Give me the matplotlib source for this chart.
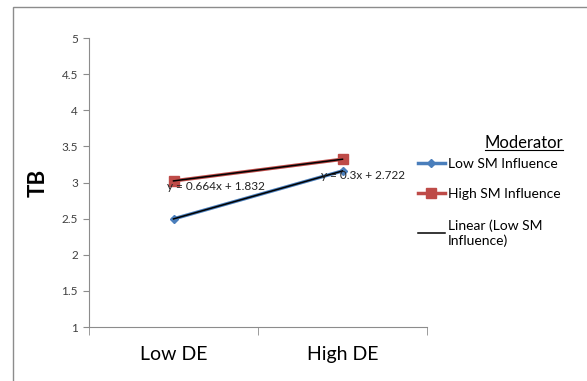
import numpy as np
import matplotlib
matplotlib.use("Agg")
import matplotlib.pyplot as plt
from matplotlib.lines import Line2D
from matplotlib.patches import Rectangle

plt.rcParams['font.family'] = ['Lato', 'DejaVu Sans']

# -------- data --------
categories = ['Low DE', 'High DE']
low_sm = [2.496, 3.16]
high_sm = [3.022, 3.322]
series_names = ['Low SM Influence', 'High SM Influence']
trend_label = 'Linear (Low SM\nInfluence)'
y_ticks = [1, 1.5, 2, 2.5, 3, 3.5, 4, 4.5, 5]

fig = plt.figure(figsize=(5.87, 3.81), dpi=100)
ax = fig.add_axes([89 / 587, 1 - 327 / 381, (427 - 89) / 587, (327 - 38) / 381])

# outer chart border
fig.patches.append(Rectangle((13 / 587, -0.1), 1.2, 1 - 7 / 381 + 0.1, transform=fig.transFigure,
                             fill=False, edgecolor='#8c8c8c', linewidth=1.0))

x = np.arange(len(categories))
ax.plot(x, low_sm, color='#4a7ebb', lw=2.5, marker='D', ms=4.5, zorder=3)
ax.plot(x, high_sm, color='#be4b48', lw=2.5, marker='s', ms=7, zorder=3)

# excel-style linear trendlines (x = 1, 2)
xe = x + 1
for vals, pos in [(low_sm, (-0.04, 2.95)), (high_sm, (0.87, 3.10))]:
    m, b = np.polyfit(xe, vals, 1)
    ax.plot(x, m * xe + b, color='black', lw=1.1, zorder=4)
    ax.text(pos[0], pos[1], f'y = {m:.3g}x + {b:.4g}', fontsize=8.5, color='#222222',
            va='center', ha='left', zorder=5)

ax.set_xlim(-0.5, 1.5)
ax.set_ylim(1, 5)
ax.set_yticks(y_ticks)
ax.set_yticklabels([f'{t:g}' for t in y_ticks], fontsize=8.5, color='#404040')
ax.set_xticks(x)
ax.set_xticklabels(categories, fontsize=14)
ax.set_xticks([-0.5, 0.5, 1.5], minor=True)
ax.tick_params(axis='x', which='major', length=0, pad=14)
ax.tick_params(axis='x', which='minor', length=6, direction='out', color='#8c8c8c')
ax.tick_params(axis='y', length=4, color='#8c8c8c', pad=4)
for side in ['top', 'right']:
    ax.spines[side].set_visible(False)
for side in ['left', 'bottom']:
    ax.spines[side].set_color('#8c8c8c')
ax.set_ylabel('TB', fontsize=16, fontweight='bold', labelpad=9)

handles = [Line2D([], [], color='#4a7ebb', lw=2.5, marker='D', ms=4),
           Line2D([], [], color='#be4b48', lw=2.5, marker='s', ms=6.5),
           Line2D([], [], color='black', lw=1.1)]
leg = fig.legend(handles, series_names + [trend_label], loc='upper left',
                 bbox_to_anchor=(412 / 587, 1 - 152 / 381), frameon=False, fontsize=10,
                 handlelength=2.0, handletextpad=0.2, labelspacing=1.35, borderaxespad=0)
for t in leg.get_texts():
    t.set_linespacing(1.3)

title = fig.text(524 / 587, 1 - 143 / 381, 'Moderator', fontsize=12, ha='center', va='center')
fig.canvas.draw()
bb = title.get_window_extent().transformed(fig.transFigure.inverted())
fig.add_artist(Line2D([bb.x0, bb.x1], [bb.y0 + 0.003, bb.y0 + 0.003], color='black', lw=0.8,
                      transform=fig.transFigure))

fig.savefig('out.png', dpi=100)
